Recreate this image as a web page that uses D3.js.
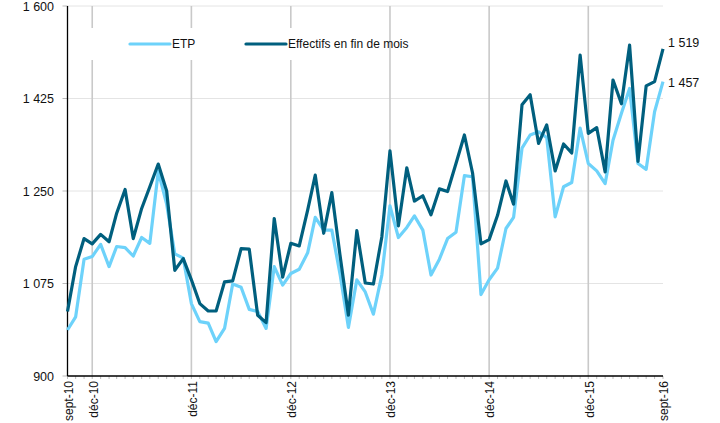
<!DOCTYPE html>
<html>
<head>
<meta charset="utf-8">
<script src="https://cdn.jsdelivr.net/npm/d3@7/dist/d3.min.js"></script>
<style>
  body { margin: 0; background: #fff; }
  svg text { font-family: "Liberation Sans", Arial, sans-serif; font-size: 12px; fill: #111; }
</style>
</head>
<body>
<svg id="chart" width="720" height="423"></svg>
<script>
// monthly series, sept-10 .. sept-16
var startMonth = new Date(2010, 8, 1);

var effectifs = [1022, 1107, 1160, 1150, 1168, 1154, 1208, 1253, 1160, 1217, 1258, 1301, 1250,
  1100, 1122, 1082, 1037, 1023, 1023, 1078, 1080, 1141, 1140, 1015, 1001,
  1198, 1087, 1151, 1146, 1214, 1280, 1170, 1247, 1125, 1015, 1175, 1076,
  1074, 1163, 1326, 1184, 1294, 1231, 1241, 1205, 1254, 1249, 1302, 1356,
  1284, 1150, 1158, 1204, 1269, 1225, 1413, 1432, 1340, 1375, 1288, 1339,
  1322, 1507, 1359, 1370, 1286, 1460, 1415, 1526, 1306, 1449, 1457, 1519];

var etp = [987, 1012, 1121, 1126, 1149, 1107, 1145, 1143, 1127, 1162, 1151, 1287, 1225,
  1131, 1123, 1037, 1003, 1000, 965, 990, 1074, 1068, 1026, 1022, 990,
  1107, 1072, 1094, 1102, 1133, 1200, 1176, 1176, 1090, 992, 1082, 1059,
  1017, 1091, 1222, 1162, 1181, 1203, 1176, 1091, 1121, 1160, 1172, 1279,
  1277, 1054, 1082, 1104, 1179, 1200, 1331, 1356, 1362, 1351, 1201, 1258,
  1266, 1369, 1302, 1288, 1264, 1346, 1397, 1444, 1302, 1291, 1400, 1457];

var yTicks = [900, 1075, 1250, 1425, 1600];
var tickIdx = [0, 3, 15, 27, 39, 51, 63, 72];
var tickLabels = ["sept-10", "déc-10", "déc-11", "déc-12", "déc-13", "déc-14", "déc-15", "sept-16"];
var gridIdx = [3, 15, 27, 39, 51, 63];

var months = effectifs.map(function(d, i) { return d3.timeMonth.offset(startMonth, i); });

var svg = d3.select("#chart");
var pLeft = 67.5, pRight = 663, pTop = 6, pBottom = 376;

var x = d3.scaleTime().domain([months[0], months[months.length - 1]]).range([pLeft, pRight]);
var y = d3.scaleLinear().domain([900, 1600]).range([pBottom, pTop]);
var fmt = function(v) { return d3.format(",")(v).replace(",", " "); };

// horizontal grid
svg.append("g").selectAll("line").data(yTicks.slice(1)).enter().append("line")
  .attr("x1", pLeft).attr("x2", pRight)
  .attr("y1", function(d) { return y(d); }).attr("y2", function(d) { return y(d); })
  .attr("stroke", "#e4e4e4").attr("stroke-width", 1);

// december grid lines
svg.append("g").selectAll("line").data(gridIdx).enter().append("line")
  .attr("x1", function(i) { return x(months[i]); }).attr("x2", function(i) { return x(months[i]); })
  .attr("y1", pTop).attr("y2", pBottom)
  .attr("stroke", "#c9c9c9").attr("stroke-width", 1.6);

// legend background
svg.append("rect").attr("x", 75).attr("y", 28).attr("width", 310).attr("height", 32).attr("fill", "#fff");

// y ticks + labels
var ya = svg.append("g");
ya.selectAll("line").data(yTicks).enter().append("line")
  .attr("x1", pLeft - 5).attr("x2", pLeft)
  .attr("y1", function(d) { return y(d); }).attr("y2", function(d) { return y(d); })
  .attr("stroke", "#bbb");
ya.selectAll("text").data(yTicks).enter().append("text")
  .attr("x", 54).attr("y", function(d) { return y(d); }).attr("dy", "0.36em")
  .attr("text-anchor", "end").style("font-size", "12.5px")
  .text(fmt);

// x minor ticks
svg.append("g").selectAll("line").data(months).enter().append("line")
  .attr("x1", function(d) { return x(d); }).attr("x2", function(d) { return x(d); })
  .attr("y1", pBottom).attr("y2", pBottom + 3)
  .attr("stroke", "#bbb");

svg.append("g").selectAll("text").data(tickIdx).enter().append("text")
  .attr("transform", function(i) { return "translate(" + (x(months[i]) + 1) + "," + (pBottom + 5) + ") rotate(-90)"; })
  .attr("dy", "0.36em").attr("text-anchor", "end")
  .text(function(i, k) { return tickLabels[k]; });

// axes lines
svg.append("line").attr("x1", pLeft).attr("x2", pLeft).attr("y1", pTop).attr("y2", pBottom).attr("stroke", "#000").attr("stroke-width", 1.3);
svg.append("line").attr("x1", pLeft).attr("x2", pRight).attr("y1", pBottom).attr("y2", pBottom).attr("stroke", "#000").attr("stroke-width", 1.3);

var line = d3.line().x(function(d, i) { return x(months[i]); }).y(function(d) { return y(d); });

svg.append("path").datum(etp).attr("d", line)
  .attr("fill", "none").attr("stroke", "#6dd2fa").attr("stroke-width", 3.2).attr("stroke-linejoin", "round");
svg.append("path").datum(effectifs).attr("d", line)
  .attr("fill", "none").attr("stroke", "#005f7e").attr("stroke-width", 3.2).attr("stroke-linejoin", "round");

// end labels
var n = months.length - 1;
svg.append("text").attr("x", 668).attr("y", y(effectifs[n]) - 2).style("font-size", "12.5px").text(fmt(effectifs[n]));
svg.append("text").attr("x", 668).attr("y", y(etp[n]) + 5).style("font-size", "12.5px").text(fmt(etp[n]));

// legend
var legend = [
  { key: "ETP", color: "#6dd2fa", x: 130 },
  { key: "Effectifs en fin de mois", color: "#005f7e", x: 246 }
];
var lg = svg.append("g").selectAll("g").data(legend).enter().append("g")
  .attr("transform", function(d) { return "translate(" + d.x + ",44)"; });
lg.append("line").attr("x1", 0).attr("x2", 40).attr("stroke", function(d) { return d.color; })
  .attr("stroke-width", 3.2).attr("stroke-linecap", "round");
lg.append("text").attr("x", 42).attr("dy", "0.36em").text(function(d) { return d.key; });
</script>
</body>
</html>
